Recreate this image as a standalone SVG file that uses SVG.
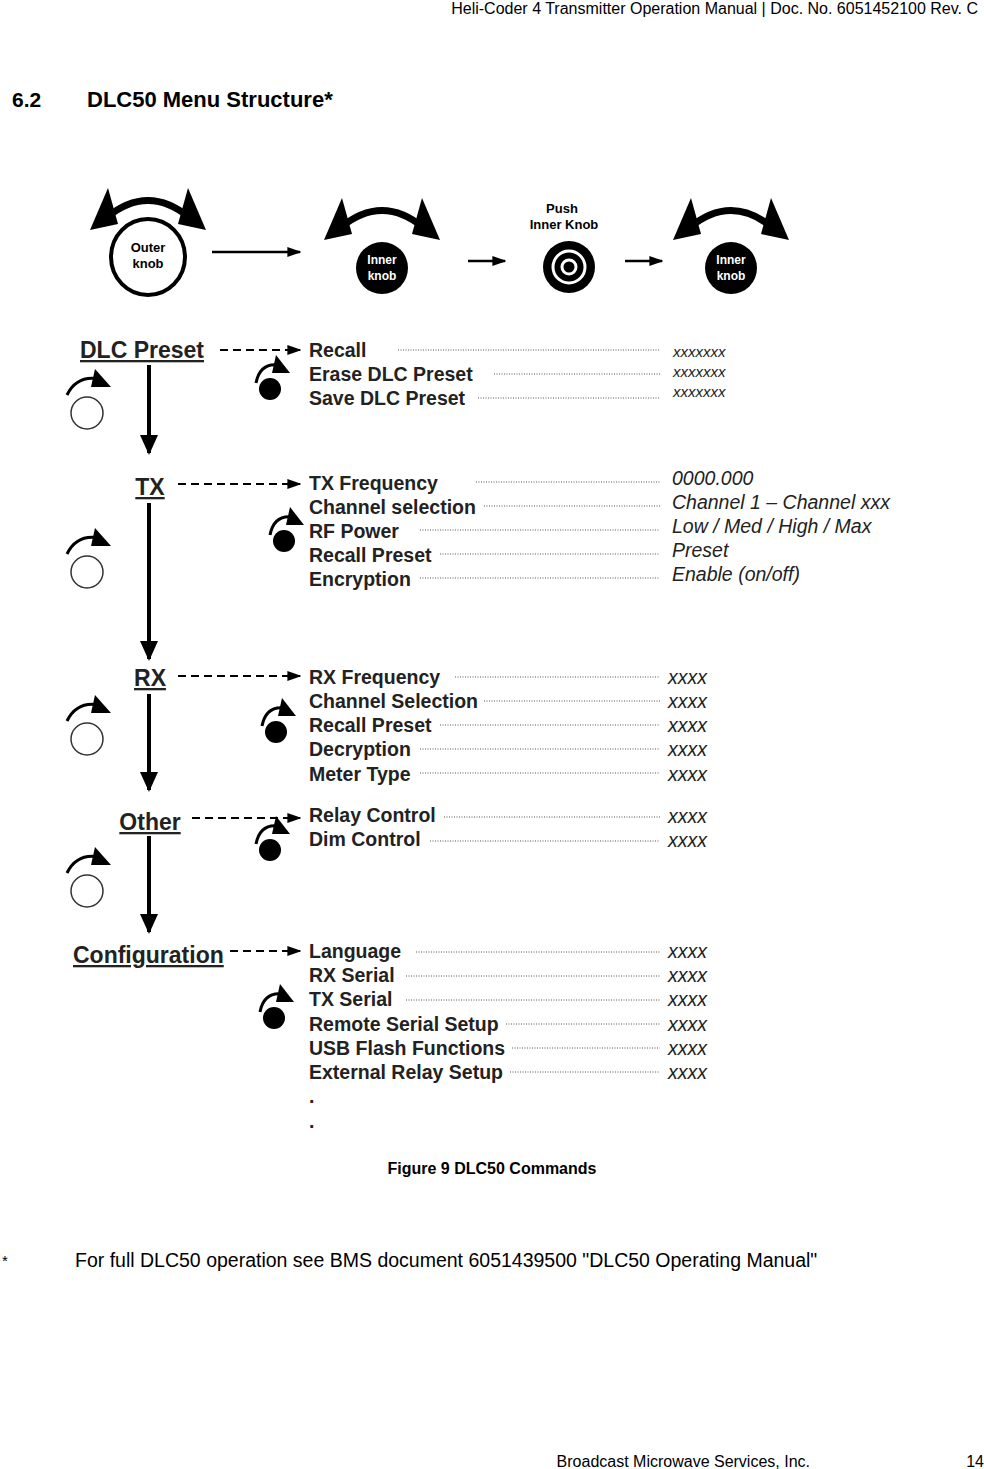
<svg xmlns="http://www.w3.org/2000/svg" width="984" height="1469" viewBox="0 0 984 1469">
<style>
text{font-family:"Liberation Sans",Arial,sans-serif;fill:#000}
.hd{font-size:23px;font-weight:bold;text-decoration:underline;fill:#222}
.it{font-size:19.5px;font-weight:bold;fill:#222}
.v{font-size:19.5px;font-style:italic;fill:#222}
.vs{font-size:15px;font-style:italic;fill:#222}
.lead{stroke:#555;stroke-width:1;stroke-dasharray:1 1.5}
.dash{stroke:#000;stroke-width:2;stroke-dasharray:8 5;fill:none}
.sol{stroke:#000;stroke-width:2.5;fill:none}
.vert{stroke:#000;stroke-width:4;fill:none}
</style>
<defs>
<marker id="ahs" viewBox="0 0 10 10" refX="9" refY="5" markerWidth="14" markerHeight="10" markerUnits="userSpaceOnUse" orient="auto" preserveAspectRatio="none"><path d="M0,0L10,5L0,10z"/></marker>
<marker id="ahv" viewBox="0 0 10 10" refX="9" refY="5" markerWidth="20" markerHeight="18" markerUnits="userSpaceOnUse" orient="auto" preserveAspectRatio="none"><path d="M0,0L10,5L0,10z"/></marker>
<g id="dbl">
<path d="M-42,10 Q0,-25 42,10" stroke="#000" stroke-width="7" fill="none"/>
<path d="M-58,22 L-40,-20 L-30,16 z"/>
<path d="M58,22 L40,-20 L30,16 z"/>
</g>
<g id="rotO">
<path d="M-20,-4 Q-10,-24 12,-20" stroke="#000" stroke-width="3" fill="none"/>
<path d="M8,-30 L24,-12 L4,-12 z"/>
<circle cx="0" cy="14" r="16" fill="#fff" stroke="#333" stroke-width="1.5"/>
</g>
<g id="rotF">
<path d="M-14,2 Q-10,-18 8,-16" stroke="#000" stroke-width="3" fill="none"/>
<path d="M6,-26 L20,-8 L2,-8 z"/>
<circle cx="0" cy="8" r="11"/>
</g>
</defs>

<text x="978" y="14" font-size="16" text-anchor="end">Heli-Coder 4 Transmitter Operation Manual | Doc. No. 6051452100 Rev. C</text>
<text x="12" y="107" font-size="21" font-weight="bold">6.2</text>
<text x="87" y="107" font-size="22" font-weight="bold">DLC50 Menu Structure*</text>

<g id="top">
<use href="#dbl" x="148" y="208"/>
<ellipse cx="148" cy="257" rx="37" ry="38" fill="#fff" stroke="#000" stroke-width="4"/>
<text x="148" y="252" font-size="13" font-weight="bold" text-anchor="middle">Outer</text>
<text x="148" y="268" font-size="13" font-weight="bold" text-anchor="middle">knob</text>
<use href="#dbl" x="382" y="218"/>
<circle cx="382" cy="268" r="26"/>
<text x="382" y="264" font-size="12" font-weight="bold" text-anchor="middle" style="fill:#fff">Inner</text>
<text x="382" y="280" font-size="12" font-weight="bold" text-anchor="middle" style="fill:#fff">knob</text>
<text x="562" y="213" font-size="13" font-weight="bold" text-anchor="middle">Push</text>
<text x="564" y="229" font-size="13" font-weight="bold" text-anchor="middle">Inner Knob</text>
<circle cx="569" cy="267" r="26"/>
<circle cx="569" cy="267" r="16" fill="none" stroke="#fff" stroke-width="3"/>
<circle cx="569" cy="267" r="7" fill="none" stroke="#fff" stroke-width="3"/>
<use href="#dbl" x="731" y="218"/>
<circle cx="731" cy="268" r="26"/>
<text x="731" y="264" font-size="12" font-weight="bold" text-anchor="middle" style="fill:#fff">Inner</text>
<text x="731" y="280" font-size="12" font-weight="bold" text-anchor="middle" style="fill:#fff">knob</text>
</g>

<g id="connectors">
<line x1="212" y1="252" x2="300" y2="252" class="sol" marker-end="url(#ahs)"/>
<line x1="468" y1="261" x2="505" y2="261" class="sol" marker-end="url(#ahs)"/>
<line x1="625" y1="261" x2="662" y2="261" class="sol" marker-end="url(#ahs)"/>
<line x1="149" y1="365" x2="149" y2="453" class="vert" marker-end="url(#ahv)"/>
<line x1="149" y1="503" x2="149" y2="659" class="vert" marker-end="url(#ahv)"/>
<line x1="149" y1="694" x2="149" y2="790" class="vert" marker-end="url(#ahv)"/>
<line x1="149" y1="836" x2="149" y2="932" class="vert" marker-end="url(#ahv)"/>
<line x1="220" y1="350" x2="300" y2="350" class="dash" marker-end="url(#ahs)"/>
<line x1="178" y1="484" x2="300" y2="484" class="dash" marker-end="url(#ahs)"/>
<line x1="178" y1="676" x2="300" y2="676" class="dash" marker-end="url(#ahs)"/>
<line x1="192" y1="818" x2="300" y2="818" class="dash" marker-end="url(#ahs)"/>
<line x1="230" y1="951" x2="300" y2="951" class="dash" marker-end="url(#ahs)"/>
</g>

<g id="icons">
<use href="#rotO" x="87" y="399"/>
<use href="#rotO" x="87" y="558"/>
<use href="#rotO" x="87" y="725"/>
<use href="#rotO" x="87" y="877"/>
<use href="#rotF" x="270" y="381"/>
<use href="#rotF" x="284" y="533"/>
<use href="#rotF" x="276" y="724"/>
<use href="#rotF" x="270" y="842"/>
<use href="#rotF" x="274" y="1010"/>
</g>

<g id="dlc">
<text x="80" y="358" class="hd">DLC Preset</text>
<text x="309" y="357" class="it">Recall</text>
<text x="309" y="381" class="it">Erase DLC Preset</text>
<text x="309" y="405" class="it">Save DLC Preset</text>
<line x1="398" y1="350" x2="660" y2="350" class="lead"/>
<line x1="494" y1="374" x2="660" y2="374" class="lead"/>
<line x1="478" y1="398" x2="660" y2="398" class="lead"/>
<text x="673" y="357" class="vs">xxxxxxx</text>
<text x="673" y="377" class="vs">xxxxxxx</text>
<text x="673" y="397" class="vs">xxxxxxx</text>
</g>

<g id="tx">
<text x="150" y="495" class="hd" text-anchor="middle">TX</text>
<text x="309" y="490" class="it">TX Frequency</text>
<text x="309" y="514" class="it">Channel selection</text>
<text x="309" y="538" class="it">RF Power</text>
<text x="309" y="562" class="it">Recall Preset</text>
<text x="309" y="586" class="it">Encryption</text>
<line x1="476" y1="482" x2="660" y2="482" class="lead"/>
<line x1="484" y1="506" x2="660" y2="506" class="lead"/>
<line x1="420" y1="530" x2="660" y2="530" class="lead"/>
<line x1="440" y1="554" x2="660" y2="554" class="lead"/>
<line x1="420" y1="578" x2="660" y2="578" class="lead"/>
<text x="672" y="485" class="v">0000.000</text>
<text x="672" y="509" class="v">Channel 1 – Channel xxx</text>
<text x="672" y="533" class="v">Low / Med / High / Max</text>
<text x="672" y="557" class="v">Preset</text>
<text x="672" y="581" class="v">Enable (on/off)</text>
</g>

<g id="rx">
<text x="150" y="686" class="hd" text-anchor="middle">RX</text>
<text x="309" y="684" class="it">RX Frequency</text>
<text x="309" y="708" class="it">Channel Selection</text>
<text x="309" y="732" class="it">Recall Preset</text>
<text x="309" y="756" class="it">Decryption</text>
<text x="309" y="781" class="it">Meter Type</text>
<line x1="455" y1="677" x2="660" y2="677" class="lead"/>
<line x1="484" y1="701" x2="660" y2="701" class="lead"/>
<line x1="440" y1="725" x2="660" y2="725" class="lead"/>
<line x1="420" y1="749" x2="660" y2="749" class="lead"/>
<line x1="420" y1="773" x2="660" y2="773" class="lead"/>
<text x="668" y="684" class="v">xxxx</text>
<text x="668" y="708" class="v">xxxx</text>
<text x="668" y="732" class="v">xxxx</text>
<text x="668" y="756" class="v">xxxx</text>
<text x="668" y="781" class="v">xxxx</text>
</g>

<g id="other">
<text x="150" y="830" class="hd" text-anchor="middle">Other</text>
<text x="309" y="822" class="it">Relay Control</text>
<text x="309" y="846" class="it">Dim Control</text>
<line x1="444" y1="817" x2="660" y2="817" class="lead"/>
<line x1="430" y1="841" x2="660" y2="841" class="lead"/>
<text x="668" y="823" class="v">xxxx</text>
<text x="668" y="847" class="v">xxxx</text>
</g>

<g id="config">
<text x="73" y="963" class="hd">Configuration</text>
<text x="309" y="958" class="it">Language</text>
<text x="309" y="982" class="it">RX Serial</text>
<text x="309" y="1006" class="it">TX Serial</text>
<text x="309" y="1031" class="it">Remote Serial Setup</text>
<text x="309" y="1055" class="it">USB Flash Functions</text>
<text x="309" y="1079" class="it">External Relay Setup</text>
<text x="309" y="1103" class="it">.</text>
<text x="309" y="1128" class="it">.</text>
<line x1="416" y1="952" x2="660" y2="952" class="lead"/>
<line x1="406" y1="976" x2="660" y2="976" class="lead"/>
<line x1="406" y1="1000" x2="660" y2="1000" class="lead"/>
<line x1="506" y1="1024" x2="660" y2="1024" class="lead"/>
<line x1="512" y1="1048" x2="660" y2="1048" class="lead"/>
<line x1="510" y1="1072" x2="660" y2="1072" class="lead"/>
<text x="668" y="958" class="v">xxxx</text>
<text x="668" y="982" class="v">xxxx</text>
<text x="668" y="1006" class="v">xxxx</text>
<text x="668" y="1031" class="v">xxxx</text>
<text x="668" y="1055" class="v">xxxx</text>
<text x="668" y="1079" class="v">xxxx</text>
</g>

<text x="492" y="1174" font-size="16" font-weight="bold" text-anchor="middle">Figure 9 DLC50 Commands</text>
<text x="2" y="1266" font-size="15">*</text>
<text x="75" y="1267" font-size="19.5">For full DLC50 operation see BMS document 6051439500 "DLC50 Operating Manual"</text>
<text x="810" y="1467" font-size="16" text-anchor="end">Broadcast Microwave Services, Inc.</text>
<text x="984" y="1467" font-size="16" text-anchor="end">14</text>
</svg>
